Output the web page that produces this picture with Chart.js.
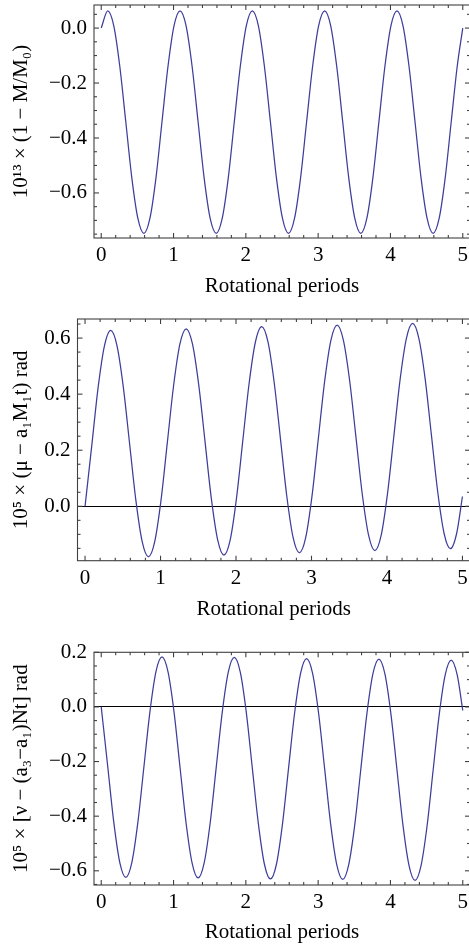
<!DOCTYPE html>
<html>
<head>
<meta charset="utf-8">
<script src="https://cdn.jsdelivr.net/npm/chart.js@4"></script>
<style>
  html, body { margin: 0; padding: 0; background: #fff; overflow: hidden; width: 469px; height: 947px; }
  .panel { position: absolute; left: 0; }
</style>
</head>
<body>
<div class="panel" style="top:0px"><canvas id="c1" width="470" height="305"></canvas></div>
<div class="panel" style="top:305px"><canvas id="c2" width="470" height="320"></canvas></div>
<div class="panel" style="top:625px"><canvas id="c3" width="470" height="322"></canvas></div>
<script>
// rotational periods (shared sample positions)
const periods = [
  0, 0.09, 0.173, 0.257, 0.34, 0.423, 0.507, 0.59, 0.673, 0.757, 0.84, 0.923,
  1.007, 1.09, 1.173, 1.257, 1.34, 1.423, 1.507, 1.59, 1.673, 1.757, 1.84, 1.923,
  2.007, 2.09, 2.173, 2.257, 2.34, 2.423, 2.507, 2.59, 2.673, 2.757, 2.84, 2.923,
  3.007, 3.09, 3.173, 3.257, 3.34, 3.423, 3.507, 3.59, 3.673, 3.757, 3.84, 3.923,
  4.007, 4.09, 4.173, 4.257, 4.34, 4.423, 4.507, 4.59, 4.673, 4.757, 4.84, 4.923,
  5.0
];

// 10^13 x (1 - M/M0)
const massLoss = [
  0.000, 0.063, 0.009, -0.140, -0.342, -0.545, -0.693, -0.747, -0.693, -0.545, -0.342, -0.140,
  0.009, 0.063, 0.009, -0.140, -0.342, -0.545, -0.693, -0.747, -0.693, -0.545, -0.342, -0.140,
  0.009, 0.063, 0.009, -0.140, -0.342, -0.545, -0.693, -0.747, -0.693, -0.545, -0.342, -0.140,
  0.009, 0.063, 0.009, -0.140, -0.342, -0.545, -0.693, -0.747, -0.693, -0.545, -0.342, -0.140,
  0.009, 0.063, 0.009, -0.140, -0.342, -0.545, -0.693, -0.747, -0.693, -0.545, -0.342, -0.140,
  0.000
];

// 10^5 x (mu - a1 M1 t)
const muDev = [
  0.000, 0.219, 0.423, 0.572, 0.627, 0.573, 0.425, 0.224, 0.022, -0.126, -0.180, -0.126,
  0.023, 0.227, 0.430, 0.579, 0.633, 0.579, 0.431, 0.230, 0.028, -0.120, -0.174, -0.120,
  0.030, 0.234, 0.437, 0.586, 0.641, 0.587, 0.439, 0.238, 0.036, -0.112, -0.166, -0.112,
  0.037, 0.240, 0.443, 0.592, 0.646, 0.592, 0.445, 0.244, 0.043, -0.104, -0.158, -0.104,
  0.045, 0.247, 0.450, 0.598, 0.652, 0.598, 0.452, 0.251, 0.050, -0.097, -0.151, -0.097,
  0.035
];

// 10^5 x [nu - (a3-a1)Nt]
const nuDev = [
  0.000, -0.218, -0.421, -0.570, -0.624, -0.570, -0.422, -0.220, -0.019, 0.129, 0.183, 0.129,
  -0.019, -0.222, -0.424, -0.572, -0.626, -0.572, -0.424, -0.222, -0.021, 0.127, 0.181, 0.127,
  -0.022, -0.225, -0.427, -0.576, -0.630, -0.576, -0.428, -0.226, -0.025, 0.123, 0.177, 0.123,
  -0.025, -0.227, -0.429, -0.577, -0.631, -0.577, -0.430, -0.228, -0.027, 0.121, 0.175, 0.121,
  -0.027, -0.230, -0.433, -0.581, -0.635, -0.581, -0.434, -0.232, -0.031, 0.117, 0.171, 0.117,
  -0.013
];

const xTicks = [0, 1, 2, 3, 4, 5];
const yTicks1 = [-0.6, -0.4, -0.2, 0.0];
const yTicks2 = [0.0, 0.2, 0.4, 0.6];
const yTicks3 = [-0.6, -0.4, -0.2, 0.0, 0.2];

const FONT = { family: "'Liberation Serif', 'Times New Roman', serif", size: 21 };
const LINE = '#3d3d9c';
const FRAME = '#404040';

// frame + inward ticks on all four sides, like Mathematica
const frameTicks = {
  id: 'frameTicks',
  afterDatasetsDraw(chart, args, opts) {
    const { ctx, chartArea: a, scales: { x, y } } = chart;
    ctx.save();
    ctx.strokeStyle = FRAME;
    ctx.lineWidth = 1.1;
    ctx.strokeRect(a.left, a.top, a.right - a.left, a.bottom - a.top);
    const tick = (x1, y1, x2, y2) => { ctx.beginPath(); ctx.moveTo(x1, y1); ctx.lineTo(x2, y2); ctx.stroke(); };
    for (let v = -0.2; v <= 5.2; v += 0.2) {
      const val = Math.round(v * 10) / 10;
      if (val < x.min || val > x.max) continue;
      const px = x.getPixelForValue(val);
      const len = Number.isInteger(val) ? 5 : 3;
      tick(px, a.bottom, px, a.bottom - len);
      tick(px, a.top, px, a.top + len);
    }
    for (let v = -1; v <= 1; v += 0.05) {
      const val = Math.round(v * 100) / 100;
      if (val < y.min - 1e-9 || val > y.max + 1e-9) continue;
      const py = y.getPixelForValue(val);
      const len = Math.abs(Math.round(val * 100) % 20) === 0 ? 5 : 3;
      tick(a.left, py, a.left + len, py);
      tick(a.right, py, a.right - len, py);
    }
    ctx.restore();
  }
};

function fmt(v) {
  const s = Math.abs(v) < 1e-9 ? '0.0' : v.toFixed(1);
  return s.replace('-', '\u2212');
}

function makeChart(id, values, cfg) {
  return new Chart(document.getElementById(id), {
    type: 'line',
    data: {
      datasets: [{
        data: periods.map((t, i) => ({ x: t, y: values[i] })),
        borderColor: LINE,
        borderWidth: 1.25,
        pointRadius: 0,
        cubicInterpolationMode: 'monotone',
        fill: false
      }]
    },
    options: {
      responsive: false,
      animation: false,
      events: [],
      layout: { padding: { top: cfg.padTop, left: 0, right: 0, bottom: 0 } },
      plugins: { legend: { display: false }, tooltip: { enabled: false } },
      scales: {
        x: {
          type: 'linear',
          min: -0.1, max: 5.1,
          afterBuildTicks: s => { s.ticks = xTicks.map(v => ({ value: v })); },
          afterFit: s => { s.height = cfg.xAxisH; s.paddingLeft = 0; s.paddingRight = 0; },
          grid: { display: false, drawTicks: false },
          border: { display: false },
          ticks: { font: FONT, color: '#000', padding: 5, maxRotation: 0, autoSkip: false, callback: v => String(v) },
          title: { display: true, text: 'Rotational periods', font: FONT, color: '#000', padding: { top: 0, bottom: cfg.titlePad } }
        },
        y: {
          type: 'linear',
          min: cfg.yMin, max: cfg.yMax,
          afterBuildTicks: s => { s.ticks = cfg.yTicks.map(v => ({ value: v })); },
          afterFit: s => { s.width = cfg.left; s.paddingTop = 0; s.paddingBottom = 0; },
          grid: {
            display: cfg.zeroLine,
            drawTicks: false,
            lineWidth: 1.1,
            color: c => (c.tick && Math.abs(c.tick.value) < 1e-9) ? '#000' : 'rgba(0,0,0,0)'
          },
          border: { display: false },
          ticks: { font: FONT, color: '#000', padding: 7, autoSkip: false, callback: v => fmt(v) },
          title: { display: true, text: cfg.yTitle, font: FONT, color: '#000', padding: { top: 9, bottom: 0 } }
        }
      }
    },
    plugins: [frameTicks]
  });
}

makeChart('c1', massLoss, {
  padTop: 5, xAxisH: 67, titlePad: 6.4, left: 94,
  yMin: -0.764, yMax: 0.084, yTicks: yTicks1, zeroLine: false,
  yTitle: '10\u00B9\u00B3 \u00D7 (1 \u2212 M/M\u2080)'
});
makeChart('c2', muDev, {
  padTop: 14, xAxisH: 64.3, titlePad: 3.4, left: 77.5,
  yMin: -0.194, yMax: 0.668, yTicks: yTicks2, zeroLine: true,
  yTitle: '10\u2075 \u00D7 (\u03BC \u2212 a\u2081M\u2081t) rad'
});
makeChart('c3', nuDev, {
  padTop: 27.3, xAxisH: 62, titlePad: 1.7, left: 94,
  yMin: -0.652, yMax: 0.2, yTicks: yTicks3, zeroLine: true,
  yTitle: '10\u2075 \u00D7 [\u03BD \u2212 (a\u2083\u2212a\u2081)Nt] rad'
});
</script>
</body>
</html>
